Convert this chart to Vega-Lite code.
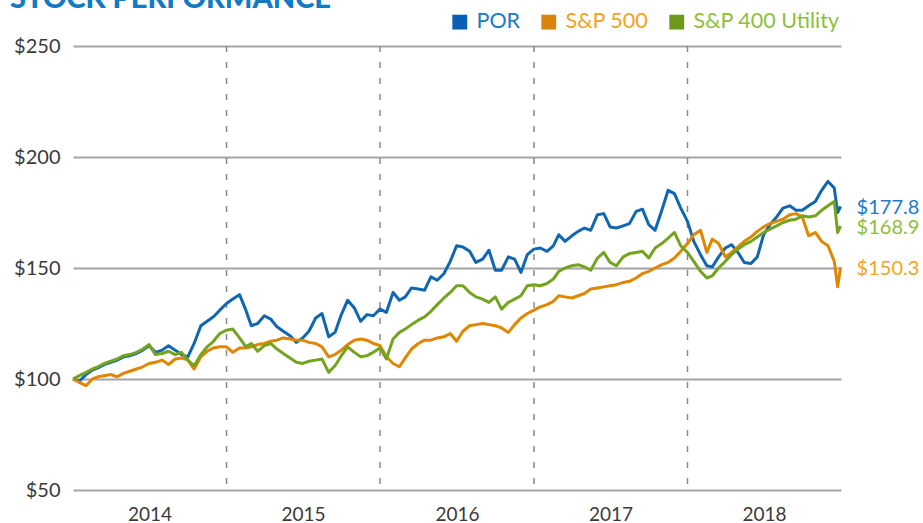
{
  "$schema": "https://vega.github.io/schema/vega-lite/v6.json",
  "width": 768,
  "height": 444,
  "autosize": {"type": "none"},
  "padding": {"left": 73, "top": 46, "right": 82, "bottom": 33},
  "background": "white",
  "config": {"font": "Lato", "view": {"stroke": null}},
  "title": {"text": "STOCK PERFORMANCE", "anchor": "start", "frame": "group", "dx": -63, "offset": 0, "dy": 3, "fontSize": 29, "fontWeight": 900, "color": "#0f7ac6", "font": "Lato"},
  "datasets": {
    "years": [{"date": "2015-01-01"}, {"date": "2016-01-01"}, {"date": "2017-01-01"}, {"date": "2018-01-01"}],
    "ends": [
      {"date": "2018-12-31", "series": "POR", "value": 177.8},
      {"date": "2018-12-31", "series": "S&P 500", "value": 150.3},
      {"date": "2018-12-31", "series": "S&P 400 Utility", "value": 168.9}
    ],
    "perf": [
      {"date": "2014-01-01", "POR": 100, "S&P 500": 100, "S&P 400 Utility": 100},
      {"date": "2014-01-16", "POR": 99, "S&P 500": 98.5, "S&P 400 Utility": 101.5},
      {"date": "2014-02-01", "POR": 102, "S&P 500": 97, "S&P 400 Utility": 103},
      {"date": "2014-02-16", "POR": 104, "S&P 500": 100, "S&P 400 Utility": 104.5},
      {"date": "2014-03-01", "POR": 105, "S&P 500": 101, "S&P 400 Utility": 105.5},
      {"date": "2014-03-16", "POR": 106.5, "S&P 500": 101.5, "S&P 400 Utility": 107},
      {"date": "2014-04-01", "POR": 107.5, "S&P 500": 102, "S&P 400 Utility": 108},
      {"date": "2014-04-16", "POR": 108.5, "S&P 500": 101, "S&P 400 Utility": 109},
      {"date": "2014-05-01", "POR": 110, "S&P 500": 102.5, "S&P 400 Utility": 110.5},
      {"date": "2014-05-16", "POR": 110.5, "S&P 500": 103.5, "S&P 400 Utility": 111},
      {"date": "2014-06-01", "POR": 111.5, "S&P 500": 104.5, "S&P 400 Utility": 112},
      {"date": "2014-06-16", "POR": 113, "S&P 500": 105.5, "S&P 400 Utility": 113.5},
      {"date": "2014-07-01", "POR": 115, "S&P 500": 107, "S&P 400 Utility": 115.5},
      {"date": "2014-07-16", "POR": 112, "S&P 500": 107.5, "S&P 400 Utility": 111},
      {"date": "2014-08-01", "POR": 113, "S&P 500": 108.5, "S&P 400 Utility": 111.5},
      {"date": "2014-08-16", "POR": 115, "S&P 500": 106.5, "S&P 400 Utility": 112.5},
      {"date": "2014-09-01", "POR": 113, "S&P 500": 109, "S&P 400 Utility": 111},
      {"date": "2014-09-16", "POR": 111, "S&P 500": 109.5, "S&P 400 Utility": 112},
      {"date": "2014-10-01", "POR": 110, "S&P 500": 108.5, "S&P 400 Utility": 108.5},
      {"date": "2014-10-16", "POR": 116, "S&P 500": 104.5, "S&P 400 Utility": 106},
      {"date": "2014-11-01", "POR": 124, "S&P 500": 110, "S&P 400 Utility": 111},
      {"date": "2014-11-16", "POR": 126, "S&P 500": 112.5, "S&P 400 Utility": 114.5},
      {"date": "2014-12-01", "POR": 128, "S&P 500": 114, "S&P 400 Utility": 117},
      {"date": "2014-12-16", "POR": 131, "S&P 500": 114.5, "S&P 400 Utility": 120.5},
      {"date": "2015-01-01", "POR": 134, "S&P 500": 114.5, "S&P 400 Utility": 122},
      {"date": "2015-01-16", "POR": 136, "S&P 500": 112, "S&P 400 Utility": 122.5},
      {"date": "2015-02-01", "POR": 138, "S&P 500": 114, "S&P 400 Utility": 118.5},
      {"date": "2015-02-16", "POR": 131, "S&P 500": 114, "S&P 400 Utility": 114.5},
      {"date": "2015-03-01", "POR": 124, "S&P 500": 114.5, "S&P 400 Utility": 116},
      {"date": "2015-03-16", "POR": 125, "S&P 500": 115.5, "S&P 400 Utility": 112.5},
      {"date": "2015-04-01", "POR": 128.5, "S&P 500": 116, "S&P 400 Utility": 115},
      {"date": "2015-04-16", "POR": 127, "S&P 500": 117, "S&P 400 Utility": 116},
      {"date": "2015-05-01", "POR": 123.5, "S&P 500": 117.5, "S&P 400 Utility": 113.5},
      {"date": "2015-05-16", "POR": 121.5, "S&P 500": 118.5, "S&P 400 Utility": 111.5},
      {"date": "2015-06-01", "POR": 119.5, "S&P 500": 118, "S&P 400 Utility": 109.5},
      {"date": "2015-06-16", "POR": 116.5, "S&P 500": 117.5, "S&P 400 Utility": 107.5},
      {"date": "2015-07-01", "POR": 118.5, "S&P 500": 117.5, "S&P 400 Utility": 107},
      {"date": "2015-07-16", "POR": 121.5, "S&P 500": 116.5, "S&P 400 Utility": 108},
      {"date": "2015-08-01", "POR": 127.5, "S&P 500": 116, "S&P 400 Utility": 108.5},
      {"date": "2015-08-16", "POR": 129.5, "S&P 500": 114.5, "S&P 400 Utility": 109},
      {"date": "2015-09-01", "POR": 119, "S&P 500": 110, "S&P 400 Utility": 103},
      {"date": "2015-09-16", "POR": 121, "S&P 500": 111, "S&P 400 Utility": 106},
      {"date": "2015-10-01", "POR": 129, "S&P 500": 113, "S&P 400 Utility": 110.5},
      {"date": "2015-10-16", "POR": 135.5, "S&P 500": 115.5, "S&P 400 Utility": 114.5},
      {"date": "2015-11-01", "POR": 132, "S&P 500": 117.5, "S&P 400 Utility": 112},
      {"date": "2015-11-16", "POR": 126, "S&P 500": 118, "S&P 400 Utility": 110},
      {"date": "2015-12-01", "POR": 129, "S&P 500": 117.5, "S&P 400 Utility": 110.5},
      {"date": "2015-12-16", "POR": 128.5, "S&P 500": 116, "S&P 400 Utility": 112},
      {"date": "2016-01-01", "POR": 131.5, "S&P 500": 115, "S&P 400 Utility": 114},
      {"date": "2016-01-16", "POR": 130, "S&P 500": 110, "S&P 400 Utility": 109},
      {"date": "2016-02-01", "POR": 139, "S&P 500": 107, "S&P 400 Utility": 118},
      {"date": "2016-02-16", "POR": 135.5, "S&P 500": 105.5, "S&P 400 Utility": 121},
      {"date": "2016-03-01", "POR": 137, "S&P 500": 109.5, "S&P 400 Utility": 122.5},
      {"date": "2016-03-16", "POR": 141, "S&P 500": 113.5, "S&P 400 Utility": 124.5},
      {"date": "2016-04-01", "POR": 140.5, "S&P 500": 116, "S&P 400 Utility": 126.5},
      {"date": "2016-04-16", "POR": 140, "S&P 500": 117.5, "S&P 400 Utility": 128},
      {"date": "2016-05-01", "POR": 146, "S&P 500": 117.5, "S&P 400 Utility": 130.5},
      {"date": "2016-05-16", "POR": 144.5, "S&P 500": 118.5, "S&P 400 Utility": 133.5},
      {"date": "2016-06-01", "POR": 147.5, "S&P 500": 119, "S&P 400 Utility": 136.5},
      {"date": "2016-06-16", "POR": 153, "S&P 500": 120.5, "S&P 400 Utility": 139},
      {"date": "2016-07-01", "POR": 160, "S&P 500": 117, "S&P 400 Utility": 142},
      {"date": "2016-07-16", "POR": 159.5, "S&P 500": 121.5, "S&P 400 Utility": 142},
      {"date": "2016-08-01", "POR": 157.5, "S&P 500": 124, "S&P 400 Utility": 139},
      {"date": "2016-08-16", "POR": 152.5, "S&P 500": 124.5, "S&P 400 Utility": 137},
      {"date": "2016-09-01", "POR": 154, "S&P 500": 125, "S&P 400 Utility": 136},
      {"date": "2016-09-16", "POR": 158, "S&P 500": 124.5, "S&P 400 Utility": 134.5},
      {"date": "2016-10-01", "POR": 149, "S&P 500": 124, "S&P 400 Utility": 137},
      {"date": "2016-10-16", "POR": 149, "S&P 500": 123, "S&P 400 Utility": 131.5},
      {"date": "2016-11-01", "POR": 155, "S&P 500": 121, "S&P 400 Utility": 134.5},
      {"date": "2016-11-16", "POR": 154, "S&P 500": 124.5, "S&P 400 Utility": 136},
      {"date": "2016-12-01", "POR": 148, "S&P 500": 127.5, "S&P 400 Utility": 137.5},
      {"date": "2016-12-16", "POR": 156, "S&P 500": 129.5, "S&P 400 Utility": 142},
      {"date": "2017-01-01", "POR": 158.5, "S&P 500": 131, "S&P 400 Utility": 142.5},
      {"date": "2017-01-16", "POR": 159, "S&P 500": 132.5, "S&P 400 Utility": 142},
      {"date": "2017-02-01", "POR": 157.5, "S&P 500": 133.5, "S&P 400 Utility": 143},
      {"date": "2017-02-16", "POR": 160, "S&P 500": 135, "S&P 400 Utility": 145},
      {"date": "2017-03-01", "POR": 165, "S&P 500": 137.5, "S&P 400 Utility": 148.5},
      {"date": "2017-03-16", "POR": 162, "S&P 500": 137, "S&P 400 Utility": 150},
      {"date": "2017-04-01", "POR": 164.5, "S&P 500": 136.5, "S&P 400 Utility": 151},
      {"date": "2017-04-16", "POR": 166.5, "S&P 500": 137.5, "S&P 400 Utility": 151.5},
      {"date": "2017-05-01", "POR": 168, "S&P 500": 138.5, "S&P 400 Utility": 150.5},
      {"date": "2017-05-16", "POR": 167, "S&P 500": 140.5, "S&P 400 Utility": 149},
      {"date": "2017-06-01", "POR": 174, "S&P 500": 141, "S&P 400 Utility": 154.5},
      {"date": "2017-06-16", "POR": 174.5, "S&P 500": 141.5, "S&P 400 Utility": 157},
      {"date": "2017-07-01", "POR": 168.5, "S&P 500": 142, "S&P 400 Utility": 152.5},
      {"date": "2017-07-16", "POR": 168, "S&P 500": 142.5, "S&P 400 Utility": 151},
      {"date": "2017-08-01", "POR": 169, "S&P 500": 143.5, "S&P 400 Utility": 155},
      {"date": "2017-08-16", "POR": 170, "S&P 500": 144, "S&P 400 Utility": 156.5},
      {"date": "2017-09-01", "POR": 175.5, "S&P 500": 145.5, "S&P 400 Utility": 157},
      {"date": "2017-09-16", "POR": 176.5, "S&P 500": 147.5, "S&P 400 Utility": 157.5},
      {"date": "2017-10-01", "POR": 169.5, "S&P 500": 148.5, "S&P 400 Utility": 154.5},
      {"date": "2017-10-16", "POR": 167, "S&P 500": 150, "S&P 400 Utility": 159},
      {"date": "2017-11-01", "POR": 176, "S&P 500": 151.5, "S&P 400 Utility": 161},
      {"date": "2017-11-16", "POR": 185, "S&P 500": 152.5, "S&P 400 Utility": 163.5},
      {"date": "2017-12-01", "POR": 183.5, "S&P 500": 154.5, "S&P 400 Utility": 166},
      {"date": "2017-12-16", "POR": 177, "S&P 500": 157.5, "S&P 400 Utility": 160},
      {"date": "2018-01-01", "POR": 171, "S&P 500": 161, "S&P 400 Utility": 157},
      {"date": "2018-01-16", "POR": 162, "S&P 500": 165, "S&P 400 Utility": 153},
      {"date": "2018-02-01", "POR": 156, "S&P 500": 167, "S&P 400 Utility": 148.5},
      {"date": "2018-02-16", "POR": 151, "S&P 500": 157, "S&P 400 Utility": 145.5},
      {"date": "2018-03-01", "POR": 150.5, "S&P 500": 163, "S&P 400 Utility": 146.5},
      {"date": "2018-03-16", "POR": 155, "S&P 500": 161, "S&P 400 Utility": 150},
      {"date": "2018-04-01", "POR": 159, "S&P 500": 155, "S&P 400 Utility": 153},
      {"date": "2018-04-16", "POR": 160.5, "S&P 500": 157, "S&P 400 Utility": 156},
      {"date": "2018-05-01", "POR": 157, "S&P 500": 159.5, "S&P 400 Utility": 158.5},
      {"date": "2018-05-16", "POR": 152.5, "S&P 500": 162, "S&P 400 Utility": 160.5},
      {"date": "2018-06-01", "POR": 152, "S&P 500": 164, "S&P 400 Utility": 162},
      {"date": "2018-06-16", "POR": 155, "S&P 500": 166.5, "S&P 400 Utility": 164},
      {"date": "2018-07-01", "POR": 165, "S&P 500": 168.5, "S&P 400 Utility": 166},
      {"date": "2018-07-16", "POR": 169.5, "S&P 500": 170, "S&P 400 Utility": 167.5},
      {"date": "2018-08-01", "POR": 173, "S&P 500": 171, "S&P 400 Utility": 169},
      {"date": "2018-08-16", "POR": 177, "S&P 500": 172, "S&P 400 Utility": 170.5},
      {"date": "2018-09-01", "POR": 178, "S&P 500": 174, "S&P 400 Utility": 171.5},
      {"date": "2018-09-16", "POR": 176, "S&P 500": 174.5, "S&P 400 Utility": 172},
      {"date": "2018-10-01", "POR": 176, "S&P 500": 173, "S&P 400 Utility": 173.5},
      {"date": "2018-10-16", "POR": 178, "S&P 500": 164.5, "S&P 400 Utility": 173},
      {"date": "2018-11-01", "POR": 180, "S&P 500": 166, "S&P 400 Utility": 173.5},
      {"date": "2018-11-16", "POR": 185, "S&P 500": 162, "S&P 400 Utility": 176},
      {"date": "2018-12-01", "POR": 189, "S&P 500": 160, "S&P 400 Utility": 178},
      {"date": "2018-12-16", "POR": 186, "S&P 500": 153, "S&P 400 Utility": 180},
      {"date": "2018-12-24", "POR": 175, "S&P 500": 141.5, "S&P 400 Utility": 166},
      {"date": "2018-12-31", "POR": 177.8, "S&P 500": 150.3, "S&P 400 Utility": 168.9}
    ]
  },
  "layer": [
    {
      "data": {"name": "years"},
      "mark": {"type": "rule", "strokeDash": [6, 10], "color": "#8a8a8a", "strokeWidth": 1.5},
      "encoding": {
        "x": {"field": "date", "type": "temporal", "title": null}
      }
    },
    {
      "data": {"name": "perf"},
      "transform": [{"fold": ["POR", "S&P 500", "S&P 400 Utility"], "as": ["series", "value"]}],
      "mark": {"type": "line", "strokeWidth": 3, "strokeJoin": "round"},
      "encoding": {
        "x": {
          "field": "date", "type": "temporal", "title": null,
          "scale": {"domain": [{"year": 2014, "month": 1, "date": 1}, {"year": 2019, "month": 1, "date": 1}], "nice": false},
          "axis": {
            "values": [{"year": 2014, "month": 7, "date": 2}, {"year": 2015, "month": 7, "date": 2}, {"year": 2016, "month": 7, "date": 2}, {"year": 2017, "month": 7, "date": 2}, {"year": 2018, "month": 7, "date": 2}],
            "format": "%Y", "grid": false, "ticks": false, "domain": false,
            "labelFontSize": 19, "labelColor": "#3a3a3a", "labelPadding": 15
          }
        },
        "y": {
          "field": "value", "type": "quantitative", "title": null,
          "scale": {"domain": [50, 250], "nice": false, "zero": false},
          "axis": {
            "values": [50, 100, 150, 200, 250], "format": "$.0f",
            "domain": false, "ticks": false, "labelFontSize": 20, "labelColor": "#3a3a3a", "labelPadding": 13,
            "gridColor": "#a3a3a8", "gridWidth": 2
          }
        },
        "color": {
          "field": "series", "type": "nominal",
          "scale": {"domain": ["POR", "S&P 500", "S&P 400 Utility"], "range": ["#1166b2", "#e08600", "#74a41f"]},
          "legend": {
            "orient": "none", "legendX": 376, "legendY": -35, "direction": "horizontal", "title": null,
            "symbolType": "square", "symbolSize": 220, "symbolStrokeWidth": 0,
            "symbolFillColor": {"expr": "datum.value == 'POR' ? '#0a5fb4' : datum.value == 'S&P 500' ? '#d9850a' : '#6b9a1e'"},
            "labelColor": {"expr": "datum.value == 'POR' ? '#1a7cc8' : datum.value == 'S&P 500' ? '#f5a31d' : '#8dbf3c'"},
            "labelFontSize": 21.5, "labelOffset": 6, "columnPadding": 17, "labelLimit": 300
          }
        }
      }
    },
    {
      "data": {"name": "ends"},
      "mark": {"type": "text", "align": "left", "baseline": "middle", "dx": 16, "fontSize": 20},
      "encoding": {
        "x": {"field": "date", "type": "temporal"},
        "y": {"field": "value", "type": "quantitative"},
        "yOffset": {"condition": {"test": "datum.series == 'POR'", "value": -6}, "value": 2},
        "text": {"field": "value", "type": "quantitative", "format": "$.1f"},
        "color": {
          "field": "series", "type": "nominal",
          "scale": {"domain": ["POR", "S&P 500", "S&P 400 Utility"], "range": ["#1a7cc8", "#f5a31d", "#8dbf3c"]},
          "legend": null
        }
      }
    }
  ],
  "resolve": {"scale": {"color": "independent"}}
}
